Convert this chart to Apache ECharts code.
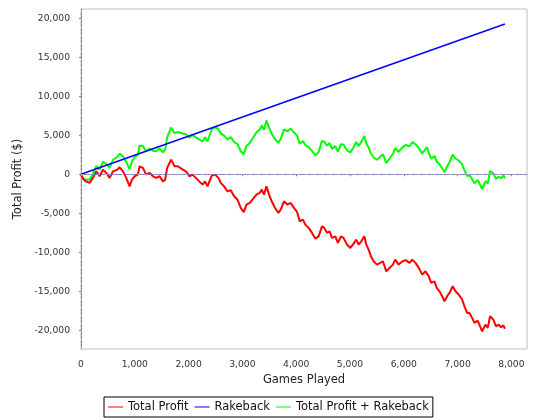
<!DOCTYPE html>
<html>
<head>
<meta charset="utf-8">
<title>Total Profit</title>
<script src="https://cdn.jsdelivr.net/npm/echarts@6/dist/echarts.min.js"></script>
<style>
  html, body { margin: 0; padding: 0; background: #fff; }
  #chart { width: 540px; height: 420px; }
</style>
</head>
<body>
<div id="chart"></div>
<script>
// games played at each sample point
const games = [
  0, 40, 85, 160, 222, 285, 346, 408, 470, 532, 594, 674, 718, 780, 841, 903, 947, 996,
  1058, 1089, 1150, 1212, 1275, 1336, 1398, 1460, 1522, 1565, 1602, 1676, 1739, 1800, 1893, 1950,
  2015, 2073, 2166, 2259, 2307, 2351, 2431, 2493, 2555, 2598, 2660, 2723, 2784, 2846, 2908, 2970,
  3025, 3075, 3137, 3186, 3261, 3322, 3360, 3402, 3447, 3496, 3545, 3607, 3669, 3712, 3773, 3836, 3898, 3955,
  4018, 4065, 4126, 4170, 4232, 4294, 4356, 4417, 4479, 4523, 4572, 4622, 4665, 4727, 4776, 4831, 4881, 4943,
  5006, 5054, 5117, 5160, 5210, 5266, 5303, 5346, 5389, 5439, 5500, 5563, 5612, 5674, 5735, 5797, 5841, 5903, 5964,
  6035, 6107, 6156, 6218, 6279, 6342, 6403, 6428, 6465, 6509, 6570, 6613, 6663, 6713, 6756, 6806, 6849, 6910, 6960,
  7021, 7084, 7127, 7177, 7220, 7270, 7313, 7374, 7456, 7517, 7560, 7604, 7665, 7715, 7764, 7808, 7851, 7880
]

const totalProfit = [
  0, -600, -900, -1100, -460, 380, -250, 600, 180, -460, 380, 600, 900, 380, -460, -1540, -680, -250,
  -40, 1030, 820, -40, 180, -250, -460, -250, -900, -680, 820, 1880, 1030, 1030, 600, 380,
  -250, -40, -680, -1320, -900, -1540, -170, -40, -460, -1100, -1540, -2180, -2050, -2820, -3240, -4310,
  -4850, -3880, -3670, -3240, -2600, -2390, -1960, -2600, -1540, -2600, -3460, -4310, -4950, -4530, -3460, -3880, -3670, -4270,
  -4850, -6020, -5810, -6450, -6870, -7510, -8240, -7950, -6670, -6870, -7510, -7310, -8150, -7950, -8800, -7950, -8150, -9010,
  -9440, -9010, -8370, -9010, -8590, -7950, -9010, -9650, -10510, -11150, -11580, -11360, -11150, -12440, -12000, -11580, -10940, -11580, -11200,
  -11000, -11360, -10940, -11360, -12000, -12860, -12440, -12220, -13080, -13920, -13720, -14560, -15000, -15640, -16280, -15640, -15210, -14360, -15000,
  -15420, -16060, -16920, -17770, -17770, -18410, -19050, -18760, -20130, -19270, -19690, -18200, -18630, -19490, -19270, -19610, -19360, -19800
]

const profitPlusRakeback = [
  0, -502, -692, -709, 83, 1077, 597, 1598, 1330, 842, 1833, 2249, 2657, 2288, 1598, 669, 1637, 2187,
  2549, 3694, 3634, 2925, 3300, 3019, 2960, 3322, 2824, 3149, 4740, 5981, 5285, 5434, 5232, 5151,
  4680, 5032, 4620, 4207, 4745, 4212, 5778, 6060, 5791, 5257, 4968, 4482, 4762, 4143, 3875, 2957,
  2551, 3644, 4005, 4555, 5379, 5738, 6261, 5724, 6894, 5954, 5214, 4515, 4027, 4552, 5771, 5506, 5867, 5407,
  4981, 3926, 4285, 3753, 3485, 2996, 2418, 2857, 4289, 4196, 3676, 3999, 3264, 3616, 2885, 3870, 3792, 3084,
  2808, 3356, 4150, 3615, 4157, 4934, 3965, 3430, 2675, 2158, 1877, 2251, 2581, 1443, 2032, 2604, 3351, 2863, 3392,
  3766, 3582, 4122, 3853, 3363, 2657, 3226, 3507, 2738, 2006, 2355, 1620, 1302, 785, 250, 1012, 1548, 2547, 2029,
  1758, 1272, 518, -210, -105, -622, -1157, -718, -1887, -878, -1193, 405, 124, -614, -274, -506, -151, -520
]

// rakeback grows steadily, start and end
const rakebackGames = [0, 7880]
const rakeback = [0, 19280]

const xTicks = [0, 1000, 2000, 3000, 4000, 5000, 6000, 7000, 8000]
const yTicks = [-20000, -15000, -10000, -5000, 0, 5000, 10000, 15000, 20000]

const font = 'DejaVu Sans'
const pair = (xs, ys) => xs.map((x, i) => [x, ys[i]])
const fmt = v => Number(v).toLocaleString('en-US')

const chart = echarts.init(document.getElementById('chart'), null, { renderer: 'canvas' })

chart.setOption({
  animation: false,
  backgroundColor: '#fff',
  grid: {
    left: 81,
    right: 13,
    top: 9,
    bottom: 71,
    show: true,
    borderColor: '#c0c0c0',
    borderWidth: 1
  },
  legend: {
    left: 104,
    top: 397,
    padding: [4, 4],
    itemGap: 6,
    itemWidth: 15,
    itemHeight: 1,
    icon: 'rect',
    borderColor: '#000',
    borderWidth: 1,
    backgroundColor: '#fff',
    textStyle: { fontFamily: font, fontSize: 11.5, color: '#111' },
    data: ['Total Profit', 'Rakeback', 'Total Profit + Rakeback']
  },
  xAxis: {
    type: 'value',
    min: 0,
    max: 8290,
    offset: 5,
    name: 'Games Played',
    nameLocation: 'middle',
    nameGap: 19,
    nameTextStyle: { fontFamily: font, fontSize: 11.5, color: '#222' },
    axisLine: { show: true, lineStyle: { color: '#808080', width: 1 } },
    axisTick: { show: true, length: 2, customValues: xTicks, lineStyle: { color: '#808080' } },
    axisLabel: {
      customValues: xTicks,
      margin: 6,
      fontFamily: font,
      fontSize: 9.2,
      color: '#333',
      formatter: fmt
    },
    splitLine: { show: false }
  },
  yAxis: {
    type: 'value',
    min: -22400,
    max: 21200,
    offset: 5,
    name: 'Total Profit ($)',
    nameLocation: 'middle',
    nameGap: 51,
    nameTextStyle: { fontFamily: font, fontSize: 11.5, color: '#222' },
    axisLine: { show: true, lineStyle: { color: '#808080', width: 1 } },
    axisTick: { show: true, length: 2, customValues: yTicks, lineStyle: { color: '#808080' } },
    axisLabel: {
      customValues: yTicks,
      margin: 6,
      fontFamily: font,
      fontSize: 9.2,
      color: '#333',
      formatter: fmt
    },
    splitLine: { show: false }
  },
  series: [{
    name: 'Total Profit',
    type: 'line',
    z: 4,
    color: '#ff0000',
    showSymbol: false,
    symbol: 'none',
    lineStyle: { width: 2, color: '#ff0000' },
    data: pair(games, totalProfit),
    markLine: {
      silent: true,
      symbol: 'none',
      label: { show: false },
      lineStyle: { color: '#a0a0ff', width: 1, type: [3, 2, 1, 2] },
      data: [{ yAxis: 0 }, { xAxis: 0 }]
    }
  }, {
    name: 'Rakeback',
    type: 'line',
    z: 3,
    color: '#0000ff',
    showSymbol: false,
    symbol: 'none',
    lineStyle: { width: 1.5, color: '#0000ff' },
    data: pair(rakebackGames, rakeback)
  }, {
    name: 'Total Profit + Rakeback',
    type: 'line',
    z: 2,
    color: '#00ff00',
    showSymbol: false,
    symbol: 'none',
    lineStyle: { width: 2, color: '#00ff00' },
    data: pair(games, profitPlusRakeback)
  }]
})
</script>
</body>
</html>
